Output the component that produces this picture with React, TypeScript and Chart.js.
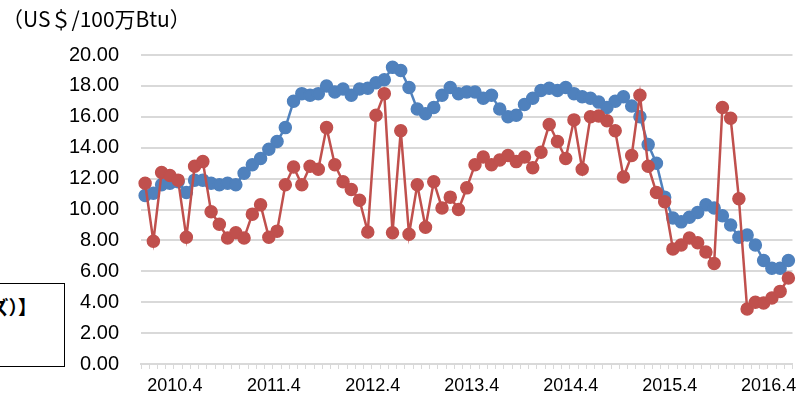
import React, { useEffect, useRef } from "react";
import { Chart, registerables } from "chart.js";

Chart.register(...registerables);

// Monthly categories, Jan 2010 onward
const startYear = 2010;
const months: string[] = [];
for (let i = 0; i < 79; i++) {
  const y = startYear + Math.floor(i / 12);
  const m = (i % 12) + 1;
  months.push(`${y}.${m}`);
}

const yearTickLabels = ["2010.4", "2011.4", "2012.4", "2013.4", "2014.4", "2015.4", "2016.4"];

const blueSeries = [
  10.9, 11.05, 11.6, 11.7, 11.8, 11.1, 11.9, 11.9, 11.7, 11.6, 11.7, 11.6,
  12.35, 12.9, 13.3, 13.9, 14.4, 15.3, 17.0, 17.5, 17.4, 17.5, 18.0, 17.6,
  17.8, 17.4, 17.8, 17.85, 18.2, 18.4, 19.2, 19.0, 17.9, 16.5, 16.2, 16.6,
  17.4, 17.9, 17.5, 17.6, 17.6, 17.2, 17.4, 16.5, 16.0, 16.1, 16.8, 17.2,
  17.7, 17.85, 17.7, 17.9, 17.5, 17.3, 17.2, 16.95, 16.6, 17.0, 17.3, 16.7,
  16.0, 14.2, 13.0, 10.8, 9.45, 9.2, 9.5, 9.8, 10.3, 10.1, 9.6, 9.0,
  8.2, 8.35, 7.7, 6.7, 6.2, 6.2, 6.7,
];

const redSeries = [
  11.7, 7.95, 12.4, 12.2, 11.9, 8.2, 12.8, 13.1, 9.85, 9.05, 8.15, 8.5,
  8.15, 9.7, 10.3, 8.2, 8.6, 11.6, 12.75, 11.6, 12.8, 12.6, 15.3, 12.9,
  11.8, 11.3, 10.6, 8.55, 16.1, 17.5, 8.5, 15.1, 8.4, 11.6, 8.85, 11.8,
  10.1, 10.8, 10.0, 11.4, 12.9, 13.4, 12.9, 13.2, 13.5, 13.1, 13.4, 12.7,
  13.7, 15.5, 14.4, 13.3, 15.8, 12.6, 16.0, 16.05, 15.75, 15.1, 12.1, 13.5,
  17.4, 12.8, 11.1, 10.5, 7.45, 7.7, 8.15, 7.85, 7.25, 6.5, 16.6, 15.9,
  10.7, 3.56, 4.0, 3.95, 4.27, 4.7, 5.56,
];

const unitLabel = "（US＄/100万Btu）";
const legendText = "【LNG価格（月次、ドルベース・シリーズ）】";

const BLUE = "#4f81bd";
const RED = "#c0504d";
const GRID = "#d9d9d9";
const FONT = "'Liberation Sans', Arial, sans-serif";

export default function App() {
  const canvasRef = useRef<HTMLCanvasElement | null>(null);

  useEffect(() => {
    const canvas = canvasRef.current;
    if (!canvas) return;
    const chart = new Chart(canvas, {
      type: "line",
      data: {
        labels: months,
        datasets: [
          {
            label: "red",
            data: redSeries,
            borderColor: RED,
            backgroundColor: RED,
            pointBackgroundColor: RED,
            pointBorderColor: RED,
            borderWidth: 2.5,
            pointRadius: 6,
            pointBorderWidth: 1.5,
            tension: 0,
            order: 0,
          },
          {
            label: "blue",
            data: blueSeries,
            borderColor: BLUE,
            backgroundColor: BLUE,
            pointBackgroundColor: BLUE,
            pointBorderColor: BLUE,
            borderWidth: 2.5,
            pointRadius: 6,
            pointBorderWidth: 1.5,
            tension: 0,
            order: 1,
          },
        ],
      },
      options: {
        responsive: false,
        animation: false,
        devicePixelRatio: 1,
        layout: { padding: { top: 55, left: 0, right: 0, bottom: 0 } },
        plugins: {
          legend: { display: false },
          tooltip: { enabled: false },
          title: { display: false },
        },
        scales: {
          x: {
            type: "category",
            offset: true,
            grid: {
              offset: true,
              drawOnChartArea: false,
              drawTicks: true,
              tickLength: 5,
              color: GRID,
              lineWidth: 1,
            },
            border: { display: true, color: GRID, width: 2 },
            ticks: {
              autoSkip: false,
              maxRotation: 0,
              minRotation: 0,
              color: "#000",
              font: { family: FONT, size: 18 },
              padding: 6,
              labelOffset: 5,
              callback: (_v: any, index: number) => {
                const k = index - 3;
                if (k >= 0 && k % 12 === 0) return yearTickLabels[k / 12] ?? "";
                return "";
              },
            },
            afterFit: (scale: any) => {
              scale.height = 36;
            },
          },
          y: {
            min: 0,
            max: 20,
            grid: { color: GRID, lineWidth: 2, drawTicks: false },
            border: { display: false },
            ticks: {
              stepSize: 2,
              color: "#000",
              font: { family: FONT, size: 20 },
              padding: 22,
              callback: (v: any) => Number(v).toFixed(2),
            },
            afterFit: (scale: any) => {
              scale.width = 141;
            },
          },
        },
      },
    });
    return () => chart.destroy();
  }, []);

  return (
    <div
      style={{
        position: "fixed",
        left: 0,
        top: 0,
        width: 798,
        height: 400,
        overflow: "hidden",
        background: "#fff",
      }}
    >
      <canvas
        ref={canvasRef}
        width={800}
        height={400}
        style={{ position: "absolute", left: 0, top: 0, width: 800, height: 400 }}
      />
      <div
        style={{
          position: "absolute",
          left: 2,
          top: 3,
          fontFamily: "'Noto Sans CJK JP', sans-serif",
          fontSize: 21,
          color: "#000",
          whiteSpace: "nowrap",
          lineHeight: "30px",
        }}
      >
        {unitLabel}
      </div>
      <div
        style={{
          position: "absolute",
          left: -300,
          top: 283,
          width: 365,
          height: 84,
          border: "1.5px solid #000",
          background: "#fff",
          boxSizing: "border-box",
        }}
      >
        <div
          style={{
            position: "absolute",
            right: 27,
            top: 9,
            fontFamily: "'Noto Sans CJK JP', sans-serif",
            fontSize: 19,
            fontWeight: 700,
            color: "#000",
            whiteSpace: "nowrap",
            lineHeight: "28px",
          }}
        >
          {legendText}
        </div>
      </div>
    </div>
  );
}
